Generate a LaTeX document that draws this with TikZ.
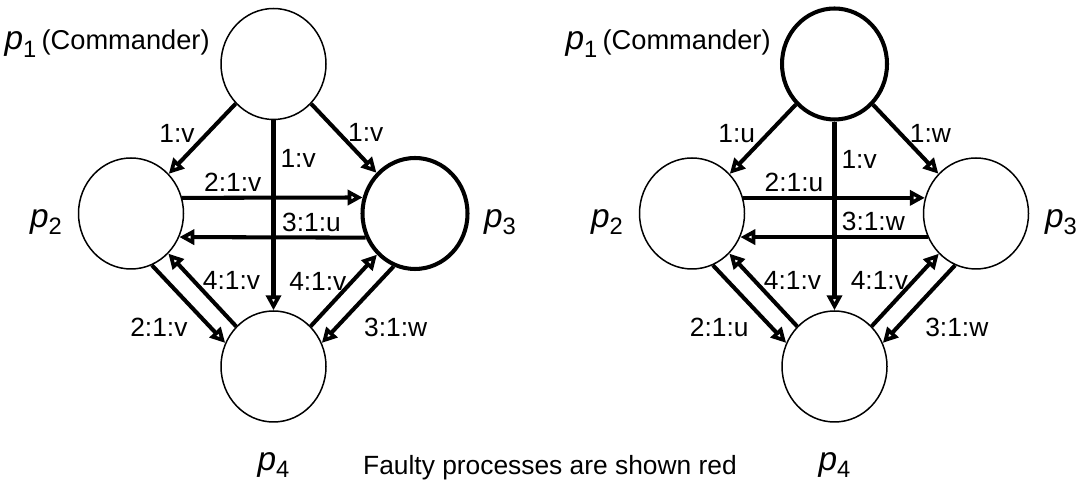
\documentclass[tikz,border=0pt]{standalone}
\usepackage{fontspec}
\setmainfont{Liberation Sans}
\usetikzlibrary{arrows.meta,shapes.geometric}

\newcommand{\proc}[1]{\textit{p}\raisebox{-4pt}{\fontsize{13.5}{13.5}\selectfont #1}}

\begin{document}
\begin{tikzpicture}[
	proc/.style={draw,ellipse,line width=0.85pt,minimum width=2.1cm,minimum height=2.22cm,inner sep=0},
	faulty/.style={proc,line width=2.3pt},
	pname/.style={font=\fontsize{19}{19}\selectfont,inner sep=0},
	msg/.style={line width=2.3pt,-{Triangle[open,length=8.5pt,width=8.5pt]}}]
	\useasboundingbox (0,0) rectangle (21.54,9.62);
	% left: p3 is the traitor
	\node[proc] (p1) at (5.47,8.34){};
	\node[proc] (p2) at (2.62,5.35){};
	\node[faulty] (p3) at (8.30,5.35){};
	\node[proc] (p4) at (5.47,2.29){};
	\node[pname,anchor=base east] (n1) at (4.2,8.62){\proc{1}\hspace{3pt}{\fontsize{15.5}{15.5}\selectfont(Commander)}};
	\node[pname] (n2) at (0.92,5.18){\proc{2}};
	\node[pname] (n3) at (10.0,5.18){\proc{3}};
	\node[pname] (n4) at (5.47,0.32){\proc{4}};
	\begin{scope}[msg, every node/.style={font=\fontsize{15}{15}\selectfont,inner sep=0}]
	\draw (p1)--node[pos=.42,left=.22cm] (a12){1:v}(p2);
	\draw (p1)--node[pos=.42,right=.15cm] (a13){1:v}(p3);
	\draw (p1)--node[pos=.2,right=.1cm] (a14){1:v}(p4);
	\draw (p2.17)--node[pos=.28,above=.09cm] (a23){2:1:v}(p3.163);
	\draw (p3.206)--node[pos=.29,above=.08cm] (a32){3:1:u}(p2.-26);
	\draw (p2.-68)--node[pos=.8,left=.42cm] (a24){2:1:v}(p4.154);
	\draw (p4)--node[pos=.63,right=.15cm] (a42){4:1:v}(p2);
	\draw (p4)--node[pos=.63,left=.08cm] (a43){4:1:v}(p3);
	\draw (p3.-112)--node[pos=.8,right=.52cm] (a34){3:1:w}(p4.26);
	\end{scope}

	% right: the commander is the traitor
	\node[faulty] (q1) at (16.69,8.34){};
	\node[proc] (q2) at (13.84,5.35){};
	\node[proc] (q3) at (19.52,5.35){};
	\node[proc] (q4) at (16.69,2.29){};
	\node[pname,anchor=base east] (m1) at (15.42,8.62){\proc{1}\hspace{3pt}{\fontsize{15.5}{15.5}\selectfont(Commander)}};
	\node[pname] (m2) at (12.14,5.18){\proc{2}};
	\node[pname] (m3) at (21.22,5.18){\proc{3}};
	\node[pname] (m4) at (16.69,0.32){\proc{4}};
	\begin{scope}[msg, every node/.style={font=\fontsize{15}{15}\selectfont,inner sep=0}]
	\draw (q1)--node[pos=.42,left=.22cm] (b12){1:u}(q2);
	\draw (q1)--node[pos=.42,right=.15cm] (b13){1:w}(q3);
	\draw (q1)--node[pos=.2,right=.1cm] (b14){1:v}(q4);
	\draw (q2.17)--node[pos=.28,above=.09cm] (b23){2:1:u}(q3.163);
	\draw (q3.206)--node[pos=.29,above=.08cm] (b32){3:1:w}(q2.-26);
	\draw (q2.-68)--node[pos=.8,left=.42cm] (b24){2:1:u}(q4.154);
	\draw (q4)--node[pos=.63,right=.15cm] (b42){4:1:v}(q2);
	\draw (q4)--node[pos=.63,left=.08cm] (b43){4:1:v}(q3);
	\draw (q3.-112)--node[pos=.8,right=.52cm] (b34){3:1:w}(q4.26);
	\end{scope}

	\node[font=\fontsize{15}{15}\selectfont,inner sep=0,anchor=base] (note) at (11.0,0.13){Faulty processes are shown red};
\end{tikzpicture}
\end{document}
